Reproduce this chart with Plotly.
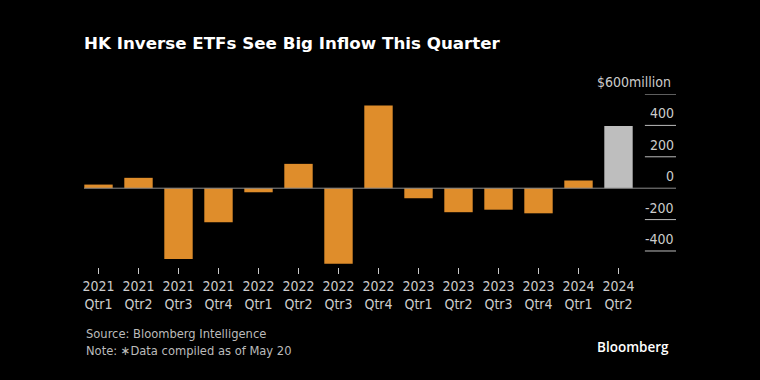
import plotly.graph_objects as go

years = ["2021", "2021", "2021", "2021", "2022", "2022", "2022", "2022",
         "2023", "2023", "2023", "2023", "2024", "2024"]
quarters = ["Qtr1", "Qtr2", "Qtr3", "Qtr4", "Qtr1", "Qtr2", "Qtr3", "Qtr4",
            "Qtr1", "Qtr2", "Qtr3", "Qtr4", "Qtr1", "Qtr2"]
flows = [23, 66, -451, -217, -26, 155, -481, 527, -64, -153, -137, -160, 49, 396]
y_ticks = [600, 400, 200, 0, -200, -400]
y_tick_labels = ["$600million", "400", "200", "0", "-200", "-400"]

labels = [f"{y}<br>{q}" for y, q in zip(years, quarters)]
xs = list(range(len(flows)))
colors = ["#DF8D2B"] * (len(flows) - 1) + ["#BEBEBE"]

fig = go.Figure()
fig.add_trace(go.Bar(x=xs, y=flows, marker=dict(color=colors, line=dict(width=0)),
                     width=0.71, hoverinfo="skip"))

x_left, x_right = -0.3625, 14.4375
grid_x0 = 13.66
for v in y_ticks:
    fig.add_shape(type="line", xref="x", yref="y",
                  x0=(x_left if v == 0 else grid_x0), x1=x_right, y0=v, y1=v,
                  line=dict(color="#8C8C8C" if v == 0 else "#BBBBBB", width=1),
                  layer="above" if v == 0 else "below")
for v, t in zip(y_ticks, y_tick_labels):
    fig.add_annotation(x=x_right, y=v, xref="x", yref="y", text=t, showarrow=False,
                       xanchor="right", yanchor="bottom", yshift=2,
                       xshift=(-3 if v == 600 else 0),
                       font=dict(family="DejaVu Sans Condensed", size=14, color="#CCCCCC"))

fig.update_layout(
    width=760, height=380,
    paper_bgcolor="#000000", plot_bgcolor="#000000",
    margin=dict(l=84, r=84, t=94, b=113),
    showlegend=False,
    bargap=0.29,
    title=dict(text="<b>HK Inverse ETFs See Big Inflow This Quarter</b>",
               x=84/760, xanchor="left", y=1 - 43/380, yanchor="middle",
               font=dict(family="DejaVu Sans", size=16.7, color="#FFFFFF")),
    xaxis=dict(range=[x_left, x_right], tickmode="array", tickvals=xs, ticktext=labels,
               ticks="outside", ticklen=6, tickwidth=1, tickcolor="#CCCCCC",
               showgrid=False, zeroline=False, showline=False,
               tickfont=dict(family="DejaVu Sans Condensed", size=14, color="#CCCCCC")),
    yaxis=dict(range=[-502, 600], showgrid=False, zeroline=False, showticklabels=False,
               showline=False),
)

fig.add_annotation(xref="paper", yref="paper", x=0, y=-(342 - 267) / 173, xanchor="left",
                   yanchor="middle", showarrow=False, align="left",
                   text="Source: Bloomberg Intelligence<br>Note: \u2217Data compiled as of May 20",
                   font=dict(family="DejaVu Sans Condensed", size=12.8, color="#BBBBBB"))
fig.add_annotation(xref="paper", yref="paper", x=1, y=-(347 - 267) / 173, xanchor="right",
                   yanchor="middle", showarrow=False, text="Bloomberg",
                   xshift=-5,
                   font=dict(family="Open Sans", size=13.5, weight=600, color="#FFFFFF"))

fig.write_html("out.html", config={"displayModeBar": False},
               post_script="document.body.style.margin='0';document.body.style.background='#000';")
